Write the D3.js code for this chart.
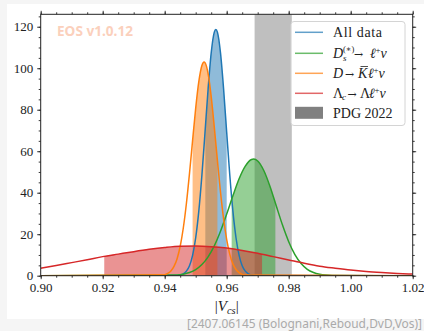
<!DOCTYPE html>
<html><head><meta charset="utf-8">
<script src="https://cdn.jsdelivr.net/npm/d3@7"></script>
<style>
html,body{margin:0;padding:0;background:#f5f5f5;}
svg{display:block;}
</style></head>
<body>
<svg id="c" width="424" height="331"></svg>
<script>
// ---------- data ----------
const allDataX = [0.900,0.944,0.945,0.946,0.947,0.948,0.949,0.950,0.951,0.952,0.953,0.954,0.955,0.956,0.9565,0.957,0.958,0.959,0.960,0.961,0.962,0.963,0.964,0.965,0.966,0.967,0.968,0.969,1.020];
const allDataY = [0,0.12,0.34,0.9,2.2,4.8,9.8,18.3,31.1,48.4,69.0,90.0,107.4,117.4,118.7,117.4,107.4,90.0,69.0,48.4,31.1,18.3,9.8,4.8,2.2,0.9,0.34,0.12,0];

const dsX = [0.900,0.944,0.946,0.948,0.950,0.952,0.954,0.956,0.958,0.960,0.962,0.964,0.966,0.968,0.9687,0.970,0.972,0.974,0.976,0.978,0.980,0.982,0.984,0.986,0.988,0.990,0.992,0.994,1.020];
const dsY = [0,0.33,0.73,1.52,2.94,5.35,9.1,14.4,21.4,29.7,38.5,46.7,52.8,56.0,56.2,55.3,50.6,42.9,33.6,24.4,16.4,10.2,5.9,3.1,1.55,0.71,0.3,0.12,0];

const dkX = [0.900,0.940,0.941,0.942,0.943,0.944,0.945,0.946,0.947,0.948,0.949,0.950,0.951,0.952,0.9527,0.953,0.954,0.955,0.956,0.957,0.958,0.959,0.960,0.961,0.962,0.963,0.964,0.965,0.966,1.020];
const dkY = [0,0.47,1.07,2.26,4.46,8.2,14.2,23.0,34.8,49.3,65.2,80.8,93.5,101.3,103.0,102.7,97.4,86.3,71.6,55.6,40.3,27.4,17.4,10.3,5.7,3.0,1.45,0.66,0.28,0];

const lcX = [0.900,0.905,0.910,0.915,0.920,0.925,0.930,0.935,0.940,0.945,0.950,0.955,0.960,0.965,0.970,0.975,0.980,0.985,0.990,0.995,1.000,1.005,1.010,1.015,1.020];
const lcY = [3.6,4.9,6.3,7.7,9.2,10.4,11.6,12.7,13.6,14.2,14.3,14.0,13.3,12.2,10.8,9.2,7.6,6.0,4.6,3.6,2.7,2.0,1.5,1.1,0.8];

// 68% intervals (shaded)
const seriesNames = ["All data","Ds","DK","Lc"];
const intervalLo = [0.9531,0.9616,0.9490,0.9205];
const intervalHi = [0.9600,0.9757,0.9570,0.9714];
const pdgRange = [0.969,0.981];

const xMajor = [0.90,0.92,0.94,0.96,0.98,1.00,1.02];
const xMajorLabels = ["0.90","0.92","0.94","0.96","0.98","1.00","1.02"];
const yMajor = [0,20,40,60,80,100,120];

// ---------- drawing ----------
const svg = d3.select("#c");
svg.append("rect").attr("x",7).attr("y",4).attr("width",417).attr("height",315).attr("fill","#ffffff");

const L=40.7,R=412.7,T=14.3,B=275.7;
const x = d3.scaleLinear().domain([0.90,1.02]).range([L,R]);
const y = d3.scaleLinear().domain([0,126]).range([B,T]);

svg.append("clipPath").attr("id","plotclip").append("rect")
  .attr("x",L).attr("y",T).attr("width",R-L).attr("height",B-T);
const plot = svg.append("g").attr("clip-path","url(#plotclip)");

// PDG band
plot.append("rect").attr("x",x(pdgRange[0])).attr("y",T)
  .attr("width",x(pdgRange[1])-x(pdgRange[0])).attr("height",B-T)
  .attr("fill","#808080").attr("fill-opacity",0.5);

const colors = ["#1f77b4","#2ca02c","#ff7f0e","#d62728"];
const series = [
  d3.zip(allDataX,allDataY),
  d3.zip(dsX,dsY),
  d3.zip(dkX,dkY),
  d3.zip(lcX,lcY)
];
const curve = d3.curveMonotoneX;
const area = d3.area().x(d=>x(d[0])).y0(y(0)).y1(d=>y(d[1])).curve(curve);
const line = d3.line().x(d=>x(d[0])).y(d=>y(d[1])).curve(curve);

series.forEach((s,i)=>{
  const cid = "iv"+i;
  svg.append("clipPath").attr("id",cid).append("rect")
    .attr("x",x(intervalLo[i])).attr("y",T)
    .attr("width",x(intervalHi[i])-x(intervalLo[i])).attr("height",B-T);
  plot.append("path").datum(s).attr("d",area).attr("clip-path","url(#"+cid+")")
    .attr("fill",colors[i]).attr("fill-opacity",0.5);
});
series.forEach((s,i)=>{
  plot.append("path").datum(s).attr("d",line)
    .attr("fill","none").attr("stroke",colors[i]).attr("stroke-width",1.5);
});

// axes
const serif = "'Liberation Serif', 'DejaVu Serif', serif";
function styleAxis(g){
  g.select(".domain").remove();
  g.selectAll("line").attr("stroke","#222").attr("stroke-width",0.9);
  g.selectAll("text").attr("font-family",serif).attr("font-size","13px").attr("fill","#222");
}
const xMinor = d3.range(0,25).map(i=>0.90+i*0.005);
const yMinor = d3.range(0,26).map(i=>i*5);

const gxb = svg.append("g").attr("transform",`translate(0,${B})`)
  .call(d3.axisBottom(x).tickValues(xMajor).tickFormat((d,i)=>xMajorLabels[i]).tickSize(3.5).tickPadding(4));
styleAxis(gxb);
const gxbm = svg.append("g").attr("transform",`translate(0,${B})`)
  .call(d3.axisBottom(x).tickValues(xMinor).tickFormat("").tickSize(2));
styleAxis(gxbm);
const gxt = svg.append("g").attr("transform",`translate(0,${T})`)
  .call(d3.axisTop(x).tickValues(xMajor).tickFormat("").tickSize(3.5));
styleAxis(gxt);
const gxtm = svg.append("g").attr("transform",`translate(0,${T})`)
  .call(d3.axisTop(x).tickValues(xMinor).tickFormat("").tickSize(2));
styleAxis(gxtm);

const gyl = svg.append("g").attr("transform",`translate(${L},0)`)
  .call(d3.axisLeft(y).tickValues(yMajor).tickSize(3.5).tickPadding(4));
styleAxis(gyl);
const gylm = svg.append("g").attr("transform",`translate(${L},0)`)
  .call(d3.axisLeft(y).tickValues(yMinor).tickFormat("").tickSize(2));
styleAxis(gylm);
const gyr = svg.append("g").attr("transform",`translate(${R},0)`)
  .call(d3.axisRight(y).tickValues(yMajor).tickFormat("").tickSize(3.5));
styleAxis(gyr);
const gyrm = svg.append("g").attr("transform",`translate(${R},0)`)
  .call(d3.axisRight(y).tickValues(yMinor).tickFormat("").tickSize(2));
styleAxis(gyrm);

// frame
svg.append("rect").attr("x",L).attr("y",T).attr("width",R-L).attr("height",B-T)
  .attr("fill","none").attr("stroke","#222").attr("stroke-width",1);

// x label |V_cs|
const xl = svg.append("text").attr("x",(L+R)/2).attr("y",311).attr("text-anchor","middle")
  .attr("font-family",serif).attr("font-size","15px").attr("fill","#222");
xl.append("tspan").text("|");
xl.append("tspan").attr("font-style","italic").text("V");
xl.append("tspan").attr("font-style","italic").attr("font-size","10.5px").attr("dy",2.5).text("cs");
xl.append("tspan").attr("dy",-2.5).text("|");

// watermark
svg.append("text").attr("x",57).attr("y",36).attr("font-family","'Noto Sans', 'Open Sans', sans-serif")
  .attr("font-weight","bold").attr("font-size","13.5px").attr("fill","#fbd0bc")
  .attr("textLength",76).attr("lengthAdjust","spacingAndGlyphs").text("EOS v1.0.12");

// legend
const lg = svg.append("g");
lg.append("rect").attr("x",291).attr("y",21.5).attr("width",114).attr("height",104).attr("rx",3)
  .attr("fill","#ffffff").attr("fill-opacity",0.85).attr("stroke","#d4d4d4").attr("stroke-width",1);
const rowY = [32.3,53.3,73.3,93.3,113.3];
[0,1,2,3].forEach(i=>{
  lg.append("line").attr("x1",295).attr("x2",323).attr("y1",rowY[i]).attr("y2",rowY[i])
    .attr("stroke",colors[i]).attr("stroke-opacity",0.7).attr("stroke-width",1.5);
});
lg.append("rect").attr("x",295).attr("y",rowY[4]-6.5).attr("width",28).attr("height",12).attr("fill","#808080");

function txt(xp,yp,s,opts={}){
  return lg.append("text").attr("x",xp).attr("y",yp).attr("font-family",opts.family||serif)
    .attr("font-size",opts.size||"14px").attr("font-style",opts.italic?"italic":"normal")
    .attr("fill","#222").text(s);
}
const tx=333;
const arrowFont = "'DejaVu Serif', serif";
txt(tx,rowY[0]+4.5,"All data").attr("letter-spacing",0.6);
// D_s^(*) -> l^+ nu
txt(tx,rowY[1]+4.5,"D",{italic:true});
txt(tx+10,rowY[1]-1,"(∗)",{size:"8.5px"});
txt(tx+10,rowY[1]+7.5,"s",{size:"9px",italic:true});
txt(tx+21,rowY[1]+4.5,"→",{family:arrowFont,size:"11px"});
txt(tx+37,rowY[1]+4.5,"ℓ",{italic:true});
txt(tx+42.5,rowY[1]-0.5,"+",{size:"9px"});
txt(tx+47.5,rowY[1]+4.5,"ν",{italic:true});
// D -> Kbar l^+ nu
txt(tx,rowY[2]+4.5,"D",{italic:true});
txt(tx+12,rowY[2]+4.5,"→",{family:arrowFont,size:"11px"});
txt(tx+25,rowY[2]+4.5,"K",{italic:true});
lg.append("line").attr("x1",tx+27.5).attr("x2",tx+35).attr("y1",rowY[2]-6.8).attr("y2",rowY[2]-6.8)
  .attr("stroke","#222").attr("stroke-width",0.8);
txt(tx+35,rowY[2]+4.5,"ℓ",{italic:true});
txt(tx+40.5,rowY[2]-0.5,"+",{size:"9px"});
txt(tx+45.5,rowY[2]+4.5,"ν",{italic:true});
// Lambda_c -> Lambda l^+ nu
txt(tx,rowY[3]+4.5,"Λ");
txt(tx+9,rowY[3]+7,"c",{size:"9px",italic:true});
txt(tx+14.5,rowY[3]+4.5,"→",{family:arrowFont,size:"11px"});
txt(tx+27,rowY[3]+4.5,"Λ");
txt(tx+36,rowY[3]+4.5,"ℓ",{italic:true});
txt(tx+41.5,rowY[3]-0.5,"+",{size:"9px"});
txt(tx+46.5,rowY[3]+4.5,"ν",{italic:true});
txt(tx,rowY[4]+4.5,"PDG 2022");

// citation
svg.append("text").attr("x",187).attr("y",328).attr("font-family","'Noto Sans', 'Open Sans', sans-serif")
  .attr("font-size","12px").attr("fill","#aaaaaa").attr("textLength",235).attr("lengthAdjust","spacingAndGlyphs")
  .text("[2407.06145 (Bolognani,Reboud,DvD,Vos)]");
</script>
</body></html>
